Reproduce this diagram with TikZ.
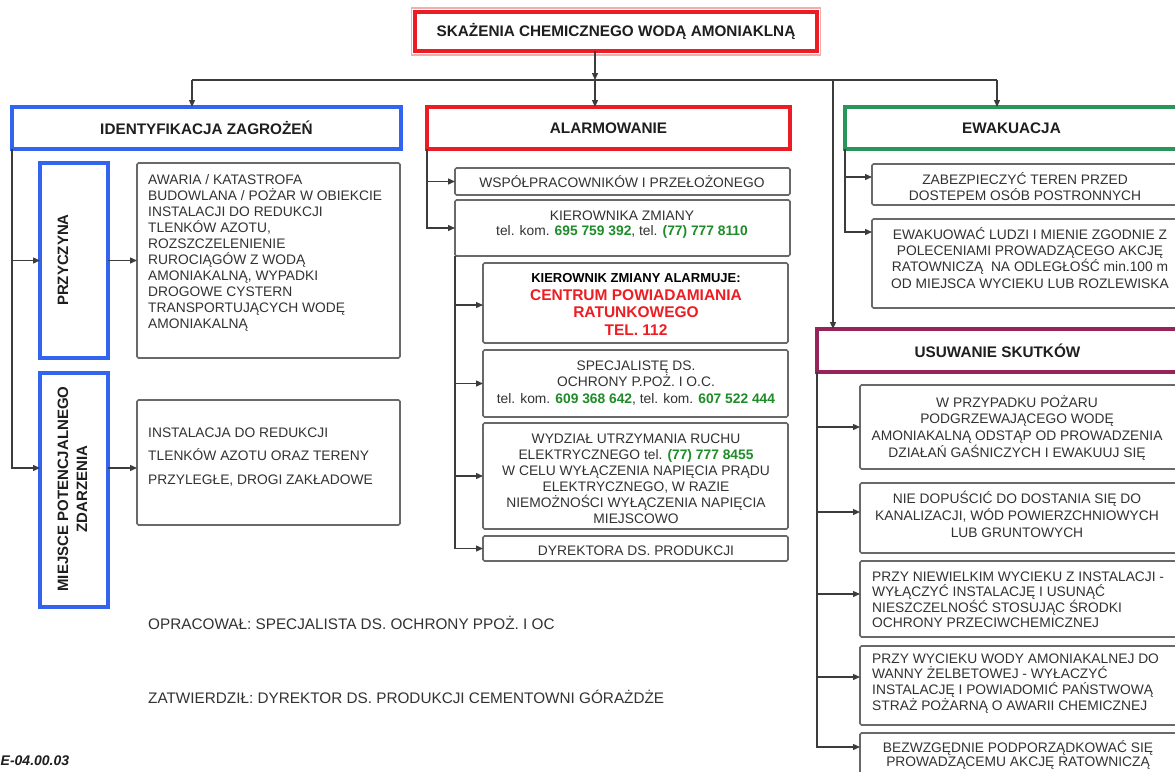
\documentclass[tikz,border=0pt]{standalone}
\usepackage{fontspec}
\setmainfont{Liberation Sans}
\usetikzlibrary{arrows.meta,calc}
\definecolor{cred}{RGB}{236,28,36}
\definecolor{cpink}{RGB}{240,175,175}
\definecolor{cblue}{RGB}{50,100,240}
\definecolor{cgreenb}{RGB}{40,150,90}
\definecolor{cpurple}{RGB}{150,35,90}
\definecolor{cgray}{RGB}{105,105,105}
\definecolor{cline}{RGB}{60,60,60}
\definecolor{ctext}{RGB}{50,50,50}
\definecolor{chtext}{RGB}{30,30,30}
\definecolor{cgtext}{RGB}{30,140,40}
\definecolor{crtext}{RGB}{236,30,36}
\newcommand\fl{\rule{0pt}{12.5pt}}
\newcommand\gn[1]{\textcolor{cgtext}{\textbf{#1}}}
\newcommand\rd[1]{{\color{crtext}\fontsize{15.5}{17.5}\selectfont #1}}
\tikzset{
  box/.style={draw=cgray, line width=1.6pt, rounded corners=1.5pt, inner sep=0pt, outer sep=0pt, anchor=north west},
  hbox/.style={line width=3.6pt, inner sep=0pt, outer sep=0pt, anchor=north west, text=chtext,
    font=\bfseries\fontsize{15.3}{18}\selectfont},
  vlabel/.style={inner sep=0pt, rotate=90, align=center, text=chtext,
    font=\bfseries\fontsize{15}{19}\selectfont},
  txt/.style={inner sep=0pt, align=center, anchor=north, text=ctext,
    font=\fontsize{13.8}{16}\selectfont},
  ltxt/.style={inner sep=0pt, align=left, anchor=north west, text=ctext,
    font=\fontsize{13.8}{16}\selectfont},
  foot/.style={inner sep=0pt, anchor=west, text=ctext, font=\fontsize{15.3}{18}\selectfont},
  link/.style={draw=cline, line width=1.3pt},
  conn/.style={draw=cline, line width=1.3pt, -{Triangle[length=7pt,width=6pt]}},
}
\begin{document}
\begin{tikzpicture}[x=1pt, y=-1pt]
\useasboundingbox (0,0) rectangle (1175,771);
\fill[white] (0,0) rectangle (1175,771);

% headers
\node[hbox, draw=cred, minimum width=402, minimum height=39] (title) at (415,12) {SKAŻENIA CHEMICZNEGO WODĄ AMONIAKLNĄ};
\draw[cpink, line width=1.2pt] ([shift={(-3.5pt,-4pt)}]title.south west) rectangle ([shift={(3.5pt,4pt)}]title.north east);
\node[hbox, draw=cblue, minimum width=389, minimum height=42] (ident) at (12,107) {IDENTYFIKACJA ZAGROŻEŃ};
\node[hbox, draw=cred, minimum width=363, minimum height=42] (alarm) at (427,107) {ALARMOWANIE};
\node[hbox, draw=cgreenb, minimum width=333, minimum height=42] (ewak) at (845,107) {EWAKUACJA};
\node[hbox, draw=cpurple, minimum width=361, minimum height=43] (usu) at (817,329) {USUWANIE SKUTKÓW};

% left column
\node[hbox, draw=cblue, minimum width=68, minimum height=195] (przy) at (40,163) {};
\node[vlabel] (przyt) at (63,260) {PRZYCZYNA};
\node[box, minimum width=263, minimum height=195] (tb1) at (137,163) {};
\node[ltxt] (tb1t) at (148,171.5) {\fl AWARIA / KATASTROFA\\BUDOWLANA / POŻAR W OBIEKCIE\\INSTALACJI DO REDUKCJI\\TLENKÓW AZOTU,\\ROZSZCZELENIENIE\\RUROCIĄGÓW Z WODĄ\\AMONIAKALNĄ, WYPADKI\\DROGOWE CYSTERN\\TRANSPORTUJĄCYCH WODĘ\\AMONIAKALNĄ};
\node[hbox, draw=cblue, minimum width=68, minimum height=234] (miej) at (40,373) {};
\node[vlabel] (miejt) at (72.5,489) {MIEJSCE POTENCJALNEGO\\ZDARZENIA};
\node[box, minimum width=263, minimum height=125] (tb2) at (137,400) {};
\node[ltxt, font=\fontsize{13.8}{23.5}\selectfont] (tb2t) at (148,424.5) {\fl INSTALACJA DO REDUKCJI\\TLENKÓW AZOTU ORAZ TERENY\\PRZYLEGŁE, DROGI ZAKŁADOWE};

% middle column
\node[box, minimum width=335, minimum height=27] (wsp) at (455,168) {};
\node[txt] (wspt) at (622,174.5) {\fl WSPÓŁPRACOWNIKÓW I PRZEŁOŻONEGO};
\node[box, minimum width=335, minimum height=56] (kier) at (455,200) {};
\node[txt, font=\fontsize{13.8}{15.5}\selectfont] (kiert) at (622,207.5) {\fl KIEROWNIKA ZMIANY\\tel. kom. \gn{695 759 392}, tel. \gn{(77) 777 8110}};
\node[box, minimum width=305, minimum height=80] (alarmuje) at (483,263) {};
\node[txt, font=\bfseries\fontsize{13}{17.5}\selectfont, text=black] (alarmujet) at (636,270.2) {\fl KIEROWNIK ZMIANY ALARMUJE:\\\rd{CENTRUM POWIADAMIANIA}\\\rd{RATUNKOWEGO}\\\rd{TEL. 112}};
\node[box, minimum width=305, minimum height=67] (spec) at (483,350) {};
\node[txt, font=\fontsize{13.8}{16.5}\selectfont] (spect) at (636,357.5) {\fl SPECJALISTĘ DS.\\OCHRONY P.POŻ. I O.C.\\tel. kom. \gn{609 368 642}, tel. kom. \gn{607 522 444}};
\node[box, minimum width=305, minimum height=106] (wydz) at (483,423) {};
\node[txt] (wydzt) at (636,430.5) {\fl WYDZIAŁ UTRZYMANIA RUCHU\\ELEKTRYCZNEGO tel. \gn{(77) 777 8455}\\W CELU WYŁĄCZENIA NAPIĘCIA PRĄDU\\ELEKTRYCZNEGO, W RAZIE\\NIEMOŻNOŚCI WYŁĄCZENIA NAPIĘCIA\\MIEJSCOWO};
\node[box, minimum width=305, minimum height=25] (dyr) at (483,536) {};
\node[txt] (dyrt) at (636,542.5) {\fl DYREKTORA DS. PRODUKCJI};

% right column (evacuation)
\node[box, minimum width=306, minimum height=41] (zab) at (872,164) {};
\node[txt] (zabt) at (1025,171.5) {\fl ZABEZPIECZYĆ TEREN PRZED\\DOSTEPEM OSÓB POSTRONNYCH};
\node[box, minimum width=306, minimum height=89] (ewk) at (872,219) {};
\node[txt, font=\fontsize{13.8}{16.3}\selectfont] (ewkt) at (1030,226.5) {\fl EWAKUOWAĆ LUDZI I MIENIE ZGODNIE Z\\POLECENIAMI PROWADZĄCEGO AKCJĘ\\RATOWNICZĄ\ \ NA ODLEGŁOŚĆ min.100 m\\OD MIEJSCA WYCIEKU LUB ROZLEWISKA};

% right column (removal)
\node[box, minimum width=318, minimum height=84] (r1) at (860,385) {};
\node[txt, font=\fontsize{13.8}{16.7}\selectfont] (r1t) at (1017,394.5) {\fl W PRZYPADKU POŻARU\\PODGRZEWAJĄCEGO WODĘ\\AMONIAKALNĄ ODSTĄP OD PROWADZENIA\\DZIAŁAŃ GAŚNICZYCH I EWAKUUJ SIĘ};
\node[box, minimum width=318, minimum height=70] (r2) at (860,483) {};
\node[txt, font=\fontsize{13.8}{17}\selectfont] (r2t) at (1017,490.5) {\fl NIE DOPUŚCIĆ DO DOSTANIA SIĘ DO\\KANALIZACJI, WÓD POWIERZCHNIOWYCH\\LUB GRUNTOWYCH};
\node[box, minimum width=318, minimum height=76] (r3) at (860,561) {};
\node[ltxt, font=\fontsize{13.8}{15.4}\selectfont] (r3t) at (872,568.5) {\fl PRZY NIEWIELKIM WYCIEKU Z INSTALACJI -\\WYŁĄCZYĆ INSTALACJĘ I USUNĄĆ\\NIESZCZELNOŚĆ STOSUJĄC ŚRODKI\\OCHRONY PRZECIWCHEMICZNEJ};
\node[box, minimum width=318, minimum height=79] (r4) at (860,646) {};
\node[ltxt, font=\fontsize{13.8}{15.7}\selectfont] (r4t) at (872,650.5) {\fl PRZY WYCIEKU WODY AMONIAKALNEJ DO\\WANNY ŻELBETOWEJ - WYŁACZYĆ\\INSTALACJĘ I POWIADOMIĆ PAŃSTWOWĄ\\STRAŻ POŻARNĄ O AWARII CHEMICZNEJ};
\node[box, minimum width=318, minimum height=67] (r5) at (860,733) {};
\node[txt, font=\fontsize{13.8}{14.5}\selectfont] (r5t) at (1018,739.5) {\fl BEZWZGĘDNIE PODPORZĄDKOWAĆ SIĘ\\PROWADZĄCEMU AKCJĘ RATOWNICZĄ};

% footer
\node[foot] (opr) at (148,623) {OPRACOWAŁ: SPECJALISTA DS. OCHRONY PPOŻ. I OC};
\node[foot] (zat) at (148,697) {ZATWIERDZIŁ: DYREKTOR DS. PRODUKCJI CEMENTOWNI GÓRAŻDŻE};
\node[inner sep=0pt, anchor=west, text=chtext, font=\bfseries\itshape\fontsize{14}{16}\selectfont] (code) at (0.5,761) {E-04.00.03};

% connectors: top level
\coordinate (bar) at (595,80);
\coordinate (barL) at (192,80);
\coordinate (barR) at (997,80);
\coordinate (barU) at (833,80);
\draw[link] (barL) -- (barR);
\draw[conn] (title.south -| bar) -- (bar);
\draw[conn] (bar) -- (bar |- alarm.north);
\draw[conn] (barL) -- (barL |- ident.north);
\draw[conn] (barR) -- (barR |- ewak.north);
\draw[conn] (barU) -- (barU |- usu.north);

% left
\draw[conn] (ident.south west) |- (przy.west);
\draw[conn] (ident.south west) |- ([yshift=22pt]miej.west);
\draw[conn] (przy.east) -- (przy.east -| tb1.west);
\draw[conn] ([yshift=22pt]miej.east) -- ([yshift=22pt]miej.east -| tb2.west);

% middle
\draw[conn] (alarm.south west) |- (wsp.west);
\draw[conn] (alarm.south west) |- (kier.west);
\draw[conn] (kier.south west) |- ([yshift=-2pt]alarmuje.west);
\draw[conn] (kier.south west) |- (spec.west);
\draw[conn] (kier.south west) |- (wydz.west);
\draw[conn] (kier.south west) |- (dyr.west);

% right
\draw[conn] (ewak.south west) |- ([yshift=7.5pt]zab.west);
\draw[conn] (ewak.south west) |- ([yshift=31.5pt]ewk.west);
\draw[conn] (usu.south west) |- (r1.west);
\draw[conn] (usu.south west) |- ([yshift=6pt]r2.west);
\draw[conn] (usu.south west) |- ([yshift=5pt]r3.west);
\draw[conn] (usu.south west) |- ([yshift=8.5pt]r4.west);
\draw[conn] (usu.south west) |- ([yshift=19.5pt]r5.west);
\end{tikzpicture}
\end{document}
